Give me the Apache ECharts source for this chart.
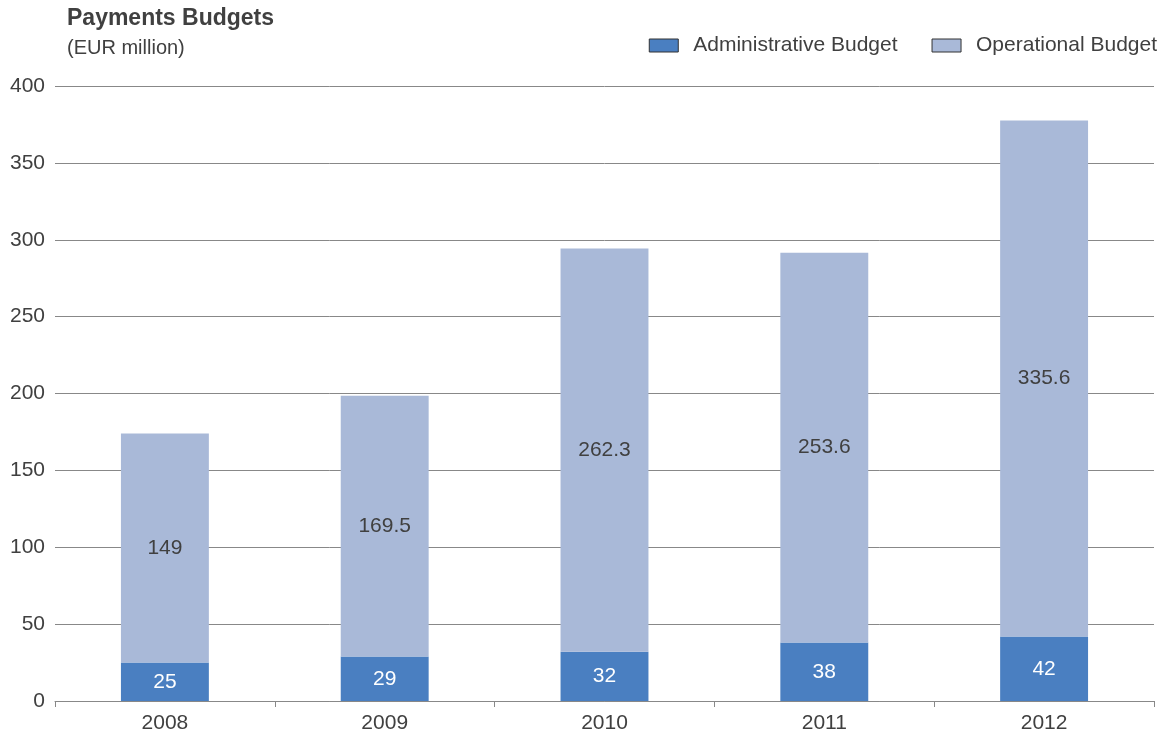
<!DOCTYPE html>
<html><head><meta charset="utf-8">
<script src="https://cdn.jsdelivr.net/npm/echarts@6/dist/echarts.min.js"></script>
<style>html,body{margin:0;padding:0;background:#fff}#c{width:1174px;height:740px}</style>
</head><body><div id="c"></div>
<script>
const years = ['2008','2009','2010','2011','2012'];
const adminBudget = [25, 29, 32, 38, 42];
const operationalBudget = [149, 169.5, 262.3, 253.6, 335.6];
const yTicks = { min: 0, max: 400, interval: 50 };

const font = 'Helvetica, "Liberation Sans", Arial, sans-serif';
const chart = echarts.init(document.getElementById('c'), null, {renderer: 'canvas'});
chart.setOption({
  backgroundColor: '#fff',
  animation: false,
  textStyle: { fontFamily: font },
  title: {
    text: 'Payments Budgets',
    subtext: '(EUR million)',
    left: 62, top: 2,
    itemGap: 8,
    textStyle: { fontSize: 23, fontWeight: 'bold', color: '#404040', fontFamily: font },
    subtextStyle: { fontSize: 20, color: '#404040', fontFamily: font }
  },
  legend: {
    right: 12, top: 30,
    icon: 'rect',
    itemWidth: 29, itemHeight: 13, itemGap: 34,
    textStyle: { fontSize: 21, color: '#404040', fontFamily: font, padding: [0,0,0,10] },
    data: [
      { name: 'Administrative Budget', itemStyle: { borderColor: '#333', borderWidth: 1 } },
      { name: 'Operational Budget', itemStyle: { borderColor: '#333', borderWidth: 1 } }
    ]
  },
  grid: { left: 55, right: 20, top: 86, bottom: 39, containLabel: false },
  xAxis: {
    type: 'category', data: years,
    axisLine: { lineStyle: { color: '#888', width: 1 } },
    axisTick: { show: true, alignWithLabel: false, length: 6, lineStyle: { color: '#888' } },
    axisLabel: { fontSize: 21, color: '#404040', margin: 12, fontFamily: font }
  },
  yAxis: {
    type: 'value', min: yTicks.min, max: yTicks.max, interval: yTicks.interval,
    axisLine: { show: false }, axisTick: { show: false },
    splitLine: { lineStyle: { color: '#888', width: 1 } },
    axisLabel: { fontSize: 21, color: '#404040', margin: 10, fontFamily: font }
  },
  series: [
    {
      name: 'Administrative Budget', type: 'bar', stack: 'b', data: adminBudget,
      barWidth: '40%',
      itemStyle: { color: '#4a7fc1' },
      label: { show: true, position: 'inside', color: '#fff', fontSize: 21, fontFamily: font }
    },
    {
      name: 'Operational Budget', type: 'bar', stack: 'b', data: operationalBudget,
      barWidth: '40%',
      itemStyle: { color: '#a9b9d8' },
      label: { show: true, position: 'inside', color: '#404040', fontSize: 21, fontFamily: font }
    }
  ]
});
</script></body></html>
